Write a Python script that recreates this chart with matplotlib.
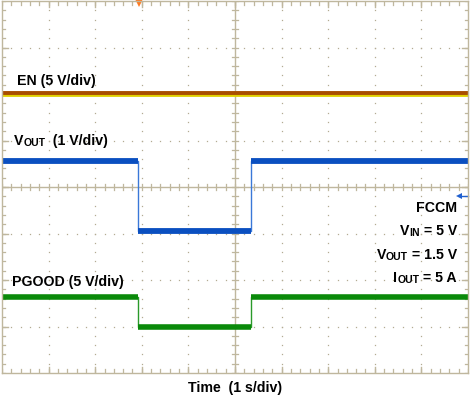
import matplotlib
matplotlib.use("Agg")
import matplotlib.pyplot as plt
import numpy as np

plt.rcParams['font.family'] = ['Liberation Sans', 'DejaVu Sans']

# Data: time in s (1 s/div), levels in screen divisions
en_t = [0.0, 10.0]
en_y = [6.02, 6.02]

vout_t = [0.0, 2.92, 2.92, 5.34, 5.34, 10.0]
vout_y = [4.56, 4.56, 3.05, 3.05, 4.56, 4.56]

pg_t = [0.0, 2.92, 2.92, 5.34, 5.34, 10.0]
pg_y = [1.63, 1.63, 0.99, 0.99, 1.63, 1.63]

trig_t = 2.93
trig_level = 3.81

W, H = 470, 398
fig = plt.figure(figsize=(W / 100, H / 100), dpi=100)
x0, x1, y0, y1 = 2, 468, 1, 373
ax = fig.add_axes([x0 / W, 1 - y1 / H, (x1 - x0) / W, (y1 - y0) / H])
ax.set_xlim(0, 10)
ax.set_ylim(0, 8)
ax.set_xticks([])
ax.set_yticks([])
gc = '#bfb79e'
dc = '#b3ab92'
for s in ax.spines.values():
    s.set_color(gc)
    s.set_linewidth(1.0)

# dotted grid
sub = np.arange(0, 10.01, 0.2)
suby = np.arange(0, 8.01, 0.2)
for gx in range(1, 10):
    if gx == 5:
        continue
    ax.plot([gx] * len(suby), suby, linestyle='', marker='s', ms=0.9, color=dc, mew=0)
for gy in range(1, 8):
    if gy == 4:
        continue
    ax.plot(sub, [gy] * len(sub), linestyle='', marker='s', ms=0.9, color=dc, mew=0)
# center lines
ax.axvline(5, color=gc, lw=1.0)
ax.axhline(4, color=gc, lw=1.0)
tl = 0.07
for v in sub:
    ax.plot([v, v], [4 - tl, 4 + tl], color=gc, lw=0.9)
    ax.plot([v, v], [0, tl * 1.2], color=gc, lw=0.9)
    ax.plot([v, v], [8 - tl * 1.2, 8], color=gc, lw=0.9)
for v in suby:
    ax.plot([5 - tl * 0.8, 5 + tl * 0.8], [v, v], color=gc, lw=0.9)
    ax.plot([0, tl], [v, v], color=gc, lw=0.9)
    ax.plot([10 - tl, 10], [v, v], color=gc, lw=0.9)
for gx in range(1, 10):
    ax.plot([gx, gx], [0, 0.13], color=gc, lw=1.0)
    ax.plot([gx, gx], [7.87, 8], color=gc, lw=1.0)
for gy in range(1, 8):
    ax.plot([0, 0.13], [gy, gy], color=gc, lw=1.0)
    ax.plot([9.87, 10], [gy, gy], color=gc, lw=1.0)

# traces
ax.plot(en_t, [v - 0.045 for v in en_y], color='#e0d000', lw=2.0, solid_capstyle='butt')
ax.plot(en_t, [v + 0.01 for v in en_y], color='#a84e00', lw=2.8, solid_capstyle='butt')

ax.plot(vout_t, vout_y, color='#3a78d8', lw=1.0)
for i in range(0, len(vout_t) - 1):
    if vout_y[i] == vout_y[i + 1]:
        ax.plot(vout_t[i:i + 2], vout_y[i:i + 2], color='#0a4fc0', lw=4.2, solid_capstyle='butt')

ax.plot(pg_t, pg_y, color='#2a9a2a', lw=1.0)
for i in range(0, len(pg_t) - 1):
    if pg_y[i] == pg_y[i + 1]:
        ax.plot(pg_t[i:i + 2], pg_y[i:i + 2], color='#0a8a0a', lw=4.0, solid_capstyle='butt')

# trigger markers
ax.plot([trig_t], [7.96], marker='v', ms=6, color='#ff7a20', mew=0, clip_on=False)
ax.plot([9.8, 10.0], [trig_level, trig_level], color='#2060d0', lw=1.0, clip_on=False)
ax.plot([9.8], [trig_level], marker='<', ms=4, color='#2060d0', mew=0, clip_on=False)

fs = 10.2
sfs = 7.6
fig.canvas.draw()
renderer = fig.canvas.get_renderer()


def rich(xpx, ypx, pieces, ha='left'):
    """pieces: list of (text, small); xpx, ypx = baseline in pixels from top-left"""
    widths = []
    for t, small in pieces:
        tt = fig.text(0, 0, t, fontsize=sfs if small else fs, fontweight='bold')
        bb = tt.get_window_extent(renderer)
        widths.append(bb.width)
        tt.remove()
    total = sum(widths)
    x = xpx - total if ha == 'right' else xpx
    for (t, small), w in zip(pieces, widths):
        dy = 1.0 if small else 0.0
        fig.text(x / W, 1 - (ypx + dy) / H, t, fontsize=sfs if small else fs,
                 fontweight='bold', va='baseline', ha='left')
        x += w


rich(17, 85, [('EN (5 V/div)', False)])
rich(14, 145, [('V', False), ('OUT', True), ('  (1 V/div)', False)])
rich(12, 286, [('PGOOD (5 V/div)', False)])

rx = 457
rich(rx, 212, [('FCCM', False)], ha='right')
rich(rx, 235, [('V', False), ('IN', True), (' = 5 V', False)], ha='right')
rich(rx, 259, [('V', False), ('OUT', True), (' = 1.5 V', False)], ha='right')
rich(rx, 282, [('I', False), ('OUT', True), (' = 5 A', False)], ha='right')

fig.text(235 / W, 1 - 388 / H, 'Time  (1 s/div)', fontsize=fs, fontweight='bold', ha='center', va='center')

fig.savefig('out.png', dpi=100)
